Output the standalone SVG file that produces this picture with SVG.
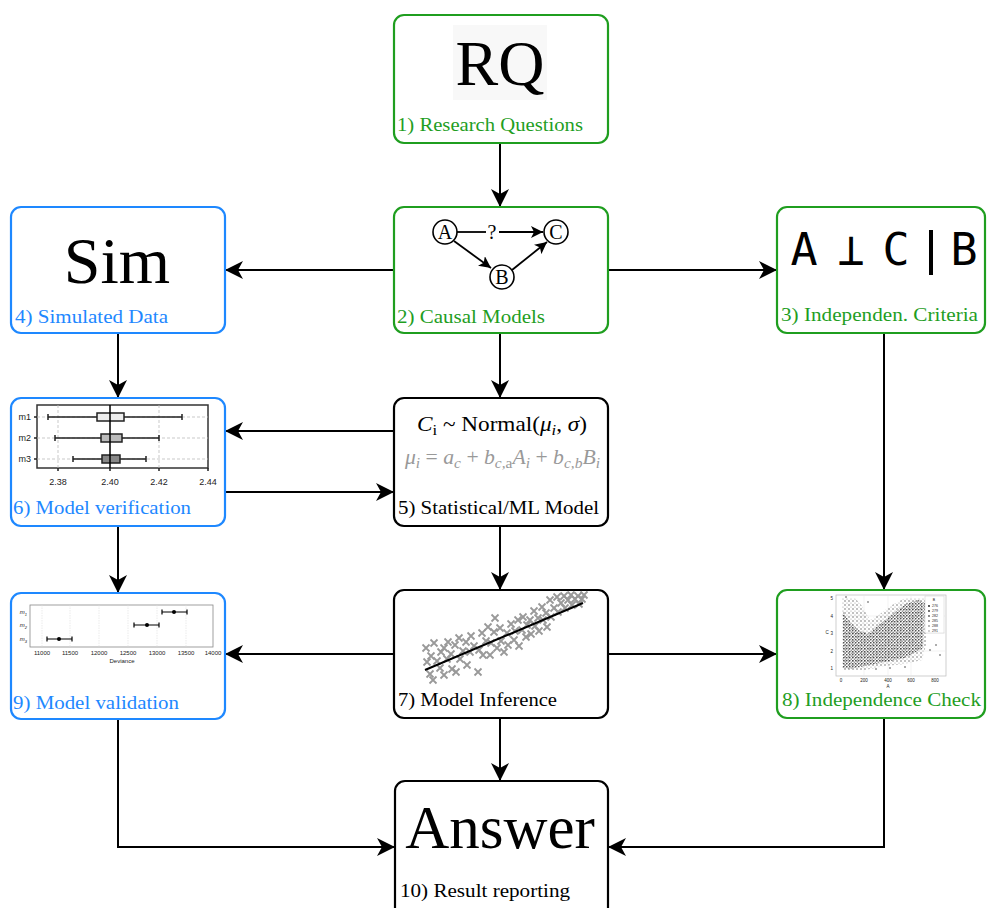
<svg xmlns="http://www.w3.org/2000/svg" xmlns:xlink="http://www.w3.org/1999/xlink" width="987" height="908" viewBox="0 0 987 908">
<style>
.box{fill:#fff;stroke-width:2.2}
.g{stroke:#1f9e1f}
.b{stroke:#1e88ff}
.k{stroke:#000}
.lbl{font-family:"Liberation Serif","DejaVu Serif",serif;font-size:19px}
.tg{fill:#1f9e1f}
.tb{fill:#1e88ff}
.tk{fill:#000}
.big{font-family:"Liberation Serif","DejaVu Serif",serif;fill:#000}
.edge{fill:none;stroke:#000;stroke-width:2}
.sm{font-family:"Liberation Sans",Arial,sans-serif;fill:#222}
.math{font-family:"Liberation Serif","DejaVu Serif",serif;font-size:21px}
</style>
<defs>
<marker id="ah" viewBox="0 0 18 18" refX="18" refY="9" markerWidth="18" markerHeight="18" markerUnits="userSpaceOnUse" orient="auto">
<path d="M0,0 L18,9 L0,18 L5,9 z" fill="#000"/>
</marker>
<marker id="ahs" viewBox="0 0 12 12" refX="12" refY="6" markerWidth="12" markerHeight="12" markerUnits="userSpaceOnUse" orient="auto">
<path d="M0,0 L12,6 L0,12 L3,6 z" fill="#000"/>
</marker>
<path id="xm" d="M-3.5,-3.5 L3.5,3.5 M-3.5,3.5 L3.5,-3.5" stroke="#999" stroke-width="1.8" fill="none"/>
<pattern id="dotsA" width="3" height="3" patternUnits="userSpaceOnUse">
<circle cx="0.8" cy="0.8" r="0.75" fill="#222"/>
<circle cx="2.3" cy="2.2" r="0.6" fill="#666"/>
</pattern>
<pattern id="dotsB" width="4" height="4" patternUnits="userSpaceOnUse">
<circle cx="1" cy="1" r="0.7" fill="#555"/>
<circle cx="3" cy="3" r="0.6" fill="#999"/>
</pattern>
</defs>

<g id="connectors">
<path class="edge" d="M500,143 L500,207" marker-end="url(#ah)"/>
<path class="edge" d="M394,270 L225,270" marker-end="url(#ah)"/>
<path class="edge" d="M608,270 L777,270" marker-end="url(#ah)"/>
<path class="edge" d="M500,333 L500,398" marker-end="url(#ah)"/>
<path class="edge" d="M118,333 L118,398" marker-end="url(#ah)"/>
<path class="edge" d="M394,431 L225,431" marker-end="url(#ah)"/>
<path class="edge" d="M225,492 L394,492" marker-end="url(#ah)"/>
<path class="edge" d="M884,333 L884,590" marker-end="url(#ah)"/>
<path class="edge" d="M118,526 L118,593" marker-end="url(#ah)"/>
<path class="edge" d="M500,526 L500,590" marker-end="url(#ah)"/>
<path class="edge" d="M394,654 L225,654" marker-end="url(#ah)"/>
<path class="edge" d="M608,654 L777,654" marker-end="url(#ah)"/>
<path class="edge" d="M500,718 L500,781" marker-end="url(#ah)"/>
<path class="edge" d="M118,719 L118,847 L395,847" marker-end="url(#ah)"/>
<path class="edge" d="M884,718 L884,847 L608,847" marker-end="url(#ah)"/>
</g>

<g id="n1">
<rect class="box g" x="394" y="15" width="214" height="128" rx="10"/>
<rect x="453" y="25" width="94" height="75" fill="#f8f8f8"/>
<text class="big" x="500" y="85" font-size="64" text-anchor="middle">RQ</text>
<text class="lbl tg" x="397" y="131" textLength="186" lengthAdjust="spacingAndGlyphs">1) Research Questions</text>
</g>

<g id="n2">
<rect class="box g" x="394" y="207" width="214" height="126" rx="10"/>
<path d="M457,232 L486,232" stroke="#000" stroke-width="1.8"/>
<path d="M499,232 L543,232" stroke="#000" stroke-width="1.8" marker-end="url(#ahs)"/>
<path d="M454,241 L491,268" stroke="#000" stroke-width="1.8" marker-end="url(#ahs)"/>
<path d="M512,270 L547,242" stroke="#000" stroke-width="1.8" marker-end="url(#ahs)"/>
<circle cx="445" cy="232" r="12" fill="#fff" stroke="#000" stroke-width="1.6"/>
<circle cx="556" cy="232" r="12" fill="#fff" stroke="#000" stroke-width="1.6"/>
<circle cx="502" cy="277" r="12" fill="#fff" stroke="#000" stroke-width="1.6"/>
<text class="big" x="445" y="239" font-size="20" text-anchor="middle">A</text>
<text class="big" x="556" y="239" font-size="20" text-anchor="middle">C</text>
<text class="big" x="502" y="284" font-size="20" text-anchor="middle">B</text>
<text class="big" x="492" y="239" font-size="20" text-anchor="middle">?</text>
<text class="lbl tg" x="397" y="323" textLength="148" lengthAdjust="spacingAndGlyphs">2) Causal Models</text>
</g>

<g id="n3">
<rect class="box g" x="777" y="207" width="208" height="126" rx="10"/>
<g font-family="'DejaVu Sans Mono','DejaVu Sans',monospace" font-size="45" fill="#000" text-anchor="middle">
<text x="804" y="265">A</text>
<text x="851" y="265">⊥</text>
<text x="896" y="265">C</text>
<text x="964" y="265">B</text>
</g>
<rect x="929" y="230" width="4" height="45" fill="#000"/>
<text class="lbl tg" x="781" y="321" textLength="197" lengthAdjust="spacingAndGlyphs">3) Independen. Criteria</text>
</g>

<g id="n4">
<rect class="box b" x="11" y="207" width="214" height="126" rx="10"/>
<text class="big" x="117" y="283" font-size="66" text-anchor="middle">Sim</text>
<text class="lbl tb" x="15" y="323" textLength="153" lengthAdjust="spacingAndGlyphs">4) Simulated Data</text>
</g>

<g id="n5">
<rect class="box k" x="394" y="398" width="214" height="128" rx="10"/>
<text class="math" x="417" y="431" fill="#000" textLength="170" lengthAdjust="spacingAndGlyphs"><tspan font-style="italic">C</tspan><tspan font-size="15" dy="4">i</tspan><tspan dy="-4">  ~ Normal(</tspan><tspan font-style="italic">μ</tspan><tspan font-size="15" font-style="italic" dy="4">i</tspan><tspan dy="-4">, </tspan><tspan font-style="italic">σ</tspan><tspan>)</tspan></text>
<text class="math" x="405" y="464" fill="#999" font-style="italic" textLength="195" lengthAdjust="spacingAndGlyphs"><tspan>μ</tspan><tspan font-size="15" dy="4">i</tspan><tspan dy="-4" font-style="normal"> = </tspan><tspan>a</tspan><tspan font-size="15" dy="4">c</tspan><tspan dy="-4" font-style="normal"> + </tspan><tspan>b</tspan><tspan font-size="15" dy="4">c,</tspan><tspan font-size="15" font-style="normal">a</tspan><tspan dy="-4">A</tspan><tspan font-size="15" dy="4">i</tspan><tspan dy="-4" font-style="normal"> + </tspan><tspan>b</tspan><tspan font-size="15" dy="4">c,b</tspan><tspan dy="-4">B</tspan><tspan font-size="15" dy="4">i</tspan></text>
<text class="lbl tk" x="398" y="514" textLength="201" lengthAdjust="spacingAndGlyphs">5) Statistical/ML Model</text>
</g>

<g id="n6">
<rect class="box b" x="11" y="398" width="214" height="128" rx="10"/>
<rect x="37" y="405" width="171" height="63" fill="#fff" stroke="#333" stroke-width="1.5"/>
<g stroke="#bbb" stroke-width="0.8" stroke-dasharray="3,2">
<path d="M58,405 V468 M159,405 V468"/>
<path d="M37,417 H208 M37,438 H208 M37,459 H208"/>
</g>
<g stroke="#222" stroke-width="1.5">
<path d="M34,417 H37 M34,438 H37 M34,459 H37 M58,468 V471 M110,468 V471 M159,468 V471 M208,468 V471"/>
<path d="M48,417 H182 M48,414 V420 M182,414 V420"/>
<path d="M55,438 H159 M55,435 V441 M159,435 V441"/>
<path d="M73,459 H146 M73,456 V462 M146,456 V462"/>
<rect x="97" y="413" width="27" height="8" fill="#eee"/>
<rect x="101" y="434" width="21" height="8" fill="#bbb"/>
<rect x="102" y="455" width="18" height="8" fill="#888"/>
</g>
<path d="M110,405 V468" stroke="#000" stroke-width="1.5"/>
<g class="sm" font-size="9">
<text x="31" y="420" text-anchor="end">m1</text>
<text x="31" y="441" text-anchor="end">m2</text>
<text x="31" y="462" text-anchor="end">m3</text>
<text x="58" y="485" text-anchor="middle">2.38</text>
<text x="110" y="485" text-anchor="middle">2.40</text>
<text x="159" y="485" text-anchor="middle">2.42</text>
<text x="208" y="485" text-anchor="middle">2.44</text>
</g>
<text class="lbl tb" x="13" y="514" textLength="178" lengthAdjust="spacingAndGlyphs">6) Model verification</text>
</g>

<g id="n7">
<rect class="box k" x="394" y="590" width="214" height="128" rx="10"/>
<g>
<use href="#xm" x="426" y="648"/><use href="#xm" x="427" y="662"/>
<use href="#xm" x="430" y="674"/><use href="#xm" x="431" y="656"/>
<use href="#xm" x="433" y="680"/><use href="#xm" x="434" y="643"/>
<use href="#xm" x="437" y="661"/>
<use href="#xm" x="440" y="668"/><use href="#xm" x="441" y="652"/>
<use href="#xm" x="444" y="648"/><use href="#xm" x="444" y="675"/>
<use href="#xm" x="447" y="659"/><use href="#xm" x="448" y="642"/>
<use href="#xm" x="451" y="654"/><use href="#xm" x="452" y="669"/>
<use href="#xm" x="455" y="645"/><use href="#xm" x="456" y="672"/>
<use href="#xm" x="459" y="638"/><use href="#xm" x="460" y="659"/>
<use href="#xm" x="463" y="651"/>
<use href="#xm" x="466" y="642"/><use href="#xm" x="467" y="665"/>
<use href="#xm" x="470" y="652"/><use href="#xm" x="471" y="636"/>
<use href="#xm" x="474" y="646"/>
<use href="#xm" x="478" y="672"/><use href="#xm" x="479" y="650"/>
<use href="#xm" x="482" y="633"/><use href="#xm" x="483" y="655"/>
<use href="#xm" x="486" y="641"/><use href="#xm" x="488" y="627"/>
<use href="#xm" x="490" y="655"/><use href="#xm" x="491" y="643"/>
<use href="#xm" x="494" y="632"/>
<use href="#xm" x="495" y="618"/><use href="#xm" x="497" y="648"/>
<use href="#xm" x="500" y="628"/><use href="#xm" x="501" y="641"/>
<use href="#xm" x="504" y="652"/>
<use href="#xm" x="507" y="633"/><use href="#xm" x="508" y="645"/>
<use href="#xm" x="511" y="624"/>
<use href="#xm" x="514" y="640"/><use href="#xm" x="515" y="631"/>
<use href="#xm" x="518" y="620"/><use href="#xm" x="519" y="646"/>
<use href="#xm" x="522" y="630"/><use href="#xm" x="523" y="617"/>
<use href="#xm" x="526" y="637"/><use href="#xm" x="527" y="625"/>
<use href="#xm" x="530" y="620"/><use href="#xm" x="531" y="634"/>
<use href="#xm" x="534" y="611"/><use href="#xm" x="535" y="626"/>
<use href="#xm" x="538" y="618"/><use href="#xm" x="539" y="631"/>
<use href="#xm" x="542" y="607"/><use href="#xm" x="543" y="620"/>
<use href="#xm" x="546" y="613"/><use href="#xm" x="547" y="627"/>
<use href="#xm" x="550" y="600"/><use href="#xm" x="551" y="617"/>
<use href="#xm" x="554" y="608"/>
<use href="#xm" x="557" y="597"/><use href="#xm" x="558" y="612"/>
<use href="#xm" x="561" y="603"/>
<use href="#xm" x="564" y="596"/><use href="#xm" x="565" y="608"/>
<use href="#xm" x="568" y="600"/>
<use href="#xm" x="571" y="595"/><use href="#xm" x="572" y="605"/>
<use href="#xm" x="575" y="599"/>
<use href="#xm" x="578" y="596"/><use href="#xm" x="579" y="604"/>
<use href="#xm" x="582" y="599"/><use href="#xm" x="584" y="595"/>
</g>
<path d="M425,670 L583,603" stroke="#000" stroke-width="2"/>
<text class="lbl tk" x="398" y="706" textLength="159" lengthAdjust="spacingAndGlyphs">7) Model Inference</text>
</g>

<g id="n8">
<rect class="box g" x="777" y="590" width="208" height="128" rx="10"/>
<rect x="836" y="595" width="110" height="81" fill="#fff" stroke="#bbb" stroke-width="0.7"/>
<g stroke="#e4e4e4" stroke-width="0.5">
<path d="M864,595 V676 M888,595 V676 M911,595 V676 M841,651 H946 M841,633 H946 M841,616 H946"/>
</g>
<path d="M842,670 L842,598 L855,598 L862,606 L870,620 L880,614 L892,605 L905,598 L926,598 L926,645 L922,660 L905,664 L885,666 L865,670 Z" fill="url(#dotsB)"/>
<path d="M843,668 L843,612 L850,622 L858,630 L868,634 L880,624 L893,614 L905,604 L918,600 L925,603 L923,648 L905,658 L885,662 L865,666 L850,669 Z" fill="url(#dotsA)"/>
<g fill="#444">
<circle cx="930" cy="650" r="0.8"/><circle cx="936" cy="645" r="0.8"/><circle cx="940" cy="655" r="0.8"/>
<circle cx="876" cy="669" r="0.8"/><circle cx="890" cy="668" r="0.8"/><circle cx="905" cy="667" r="0.8"/>
<circle cx="846" cy="597" r="0.8"/><circle cx="868" cy="602" r="0.8"/>
</g>
<rect x="925" y="596" width="19" height="37" fill="#fff" stroke="#ccc" stroke-width="0.5"/>
<g class="sm" font-size="3.5">
<text x="934" y="601" text-anchor="middle">B</text>
<circle cx="929" cy="606" r="0.9" fill="#111"/><text x="932" y="607">276</text>
<circle cx="929" cy="611" r="0.9" fill="#333"/><text x="932" y="612">279</text>
<circle cx="929" cy="616" r="0.9" fill="#555"/><text x="932" y="617">282</text>
<circle cx="929" cy="621" r="0.9" fill="#777"/><text x="932" y="622">285</text>
<circle cx="929" cy="626" r="0.9" fill="#999"/><text x="932" y="627">288</text>
<circle cx="929" cy="631" r="0.9" fill="#bbb"/><text x="932" y="632">291</text>
</g>
<g class="sm" font-size="4.5" fill="#555">
<text x="833" y="670" text-anchor="end">1</text>
<text x="833" y="653" text-anchor="end">2</text>
<text x="833" y="635" text-anchor="end">3</text>
<text x="833" y="618" text-anchor="end">4</text>
<text x="833" y="600" text-anchor="end">5</text>
<text x="841" y="682" text-anchor="middle">0</text>
<text x="864" y="682" text-anchor="middle">200</text>
<text x="888" y="682" text-anchor="middle">400</text>
<text x="911" y="682" text-anchor="middle">600</text>
<text x="935" y="682" text-anchor="middle">800</text>
<text x="888" y="688" text-anchor="middle">A</text>
<text x="827" y="634" text-anchor="middle">C</text>
</g>
<text class="lbl tg" x="782" y="706" textLength="199" lengthAdjust="spacingAndGlyphs">8) Independence Check</text>
</g>

<g id="n9">
<rect class="box b" x="11" y="593" width="214" height="126" rx="10"/>
<rect x="30" y="605" width="183" height="42" fill="#fff" stroke="#888" stroke-width="0.8"/>
<g stroke="#ddd" stroke-width="0.6" stroke-dasharray="1.5,1">
<path d="M42,605 V647 M70,605 V647 M99,605 V647 M128,605 V647 M157,605 V647 M186,605 V647"/>
</g>
<g stroke="#000" stroke-width="1.2">
<path d="M162,612 H187 M162,609.5 V614.5 M187,609.5 V614.5"/>
<path d="M134,625 H159 M134,622.5 V627.5 M159,622.5 V627.5"/>
<path d="M47,639 H72 M47,636.5 V641.5 M72,636.5 V641.5"/>
</g>
<circle cx="174" cy="612" r="2" fill="#000"/>
<circle cx="147" cy="625" r="2" fill="#000"/>
<circle cx="59" cy="639" r="2" fill="#000"/>
<g class="sm" font-size="6">
<text x="27" y="614" text-anchor="end" font-style="italic">m<tspan font-size="4" dy="1.5">1</tspan></text>
<text x="27" y="627" text-anchor="end" font-style="italic">m<tspan font-size="4" dy="1.5">2</tspan></text>
<text x="27" y="641" text-anchor="end" font-style="italic">m<tspan font-size="4" dy="1.5">3</tspan></text>
<text x="42" y="655" text-anchor="middle">11000</text>
<text x="70" y="655" text-anchor="middle">11500</text>
<text x="99" y="655" text-anchor="middle">12000</text>
<text x="128" y="655" text-anchor="middle">12500</text>
<text x="157" y="655" text-anchor="middle">13000</text>
<text x="186" y="655" text-anchor="middle">13500</text>
<text x="213" y="655" text-anchor="middle">14000</text>
<text x="122" y="663" text-anchor="middle">Deviance</text>
</g>
<text class="lbl tb" x="13" y="709" textLength="166" lengthAdjust="spacingAndGlyphs">9) Model validation</text>
</g>

<g id="n10">
<rect class="box k" x="395" y="781" width="213" height="140" rx="10"/>
<text class="big" x="500" y="848" font-size="61" text-anchor="middle">Answer</text>
<text class="lbl tk" x="400" y="897" textLength="170" lengthAdjust="spacingAndGlyphs">10) Result reporting</text>
</g>
</svg>
